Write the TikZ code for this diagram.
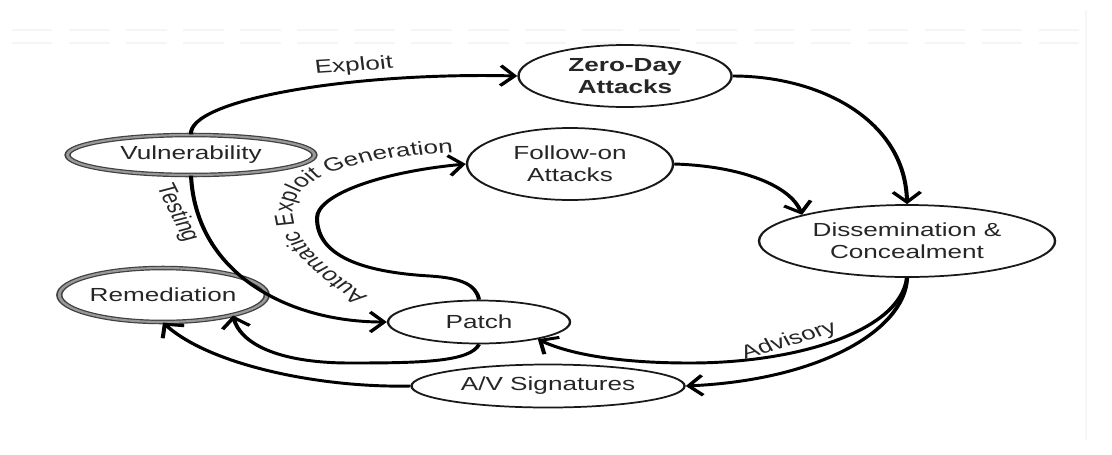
\documentclass[tikz,border=0pt]{standalone}
\usepackage{fontspec}
\setmainfont{Liberation Sans}
\usetikzlibrary{shapes.geometric,arrows.meta,decorations.text}

\newcommand{\labelsize}{\fontsize{14.2}{16.2}\selectfont}

\tikzset{
  state/.style={ellipse, draw=black!90, line width=1.3pt, fill=white, inner sep=0pt,
                align=center, text=black!85, font=\labelsize},
  dblstate/.style={state, draw=black!75, double=black!40, double distance=1.6pt, line width=0.9pt},
  flow/.style={draw=black, line width=2.2pt,
               -{Straight Barb[length=7.5pt,width=15pt,line width=2.2pt]}},
  lbl/.style={inner sep=1pt, text=black!85, font=\labelsize},
  haze/.style={black!4, line width=0.9pt, dash pattern=on 22pt off 9pt}
}

\begin{document}
\begin{tikzpicture}
\useasboundingbox[fill=white] (0,0) rectangle (834pt,-340.5pt);
% everything is laid out in a narrow frame and widened by the canvas transform
\begin{scope}[transform canvas={xscale=1.38}, x=0.5435pt, y=-0.75pt]

  % faint scan bands along the top and right
  \draw[haze] (12,30) -- (1095,30);
  \draw[haze] (12,43) -- (1095,43);
  \draw[black!3, line width=0.8pt] (1086,10) -- (1086,440);

  % states
  \node[dblstate, minimum width=134.2pt, minimum height=30pt] (vul) at (191,155) {Vulnerability};
  \node[dblstate, minimum width=107.1pt, minimum height=40.5pt] (rem) at (163,295) {Remediation};
  \node[state, minimum width=115.8pt, minimum height=46.5pt,
        font=\labelsize\bfseries] (zd) at (625,76) {Zero-Day\\Attacks};
  \node[state, minimum width=112pt, minimum height=54pt] (fo) at (570,164) {Follow-on\\Attacks};
  \node[state, minimum width=160.9pt, minimum height=54pt] (dc) at (907,241) {Dissemination \&\\Concealment};
  \node[state, minimum width=98.9pt, minimum height=32.25pt] (patch) at (479,322) {Patch};
  \node[state, minimum width=148.4pt, minimum height=32.25pt] (av) at (548,386) {A/V Signatures};

  % exploit path
  \draw[flow] (vul.north) .. controls (188,100) and (350,72) .. (zd.west);
  \node[lbl, rotate=5] (lexploit) at (354,66) {Exploit};

  % attacks spread
  \draw[flow] (zd.east) .. controls (820,76) and (905,120) .. (dc.north);
  \draw[flow] (fo.east) .. controls (740,166) and (790,185) .. (dc.161);

  % testing leads to a patch
  \draw[flow] (vul.south) .. controls (196,275) and (290,322) .. (patch.west);
  \node[lbl, rotate=-70] (ltesting) at (177,213) {Testing};

  % patch diffing loops back into new attacks
  \draw[flow] (patch.north) .. controls (476,284) and (460,278) .. (430,276)
              .. controls (360,272) and (317,255) .. (317,218)
              .. controls (317,195) and (380,172) .. (fo.west);
  \path[decorate, decoration={text along path,
        text={|\labelsize\color{black!85}|Automatic Exploit Generation}}]
        (368,296) .. controls (277,239) and (226,160) .. (470,152);

  % remediation
  \draw[flow] (patch.south) .. controls (470,362) and (420,363) .. (350,363)
              .. controls (275,363) and (240,342) .. (rem.-22);
  \draw[flow] (av.west) .. controls (320,388) and (210,365) .. (rem.south);

  % advisories and signatures
  \draw[flow] (dc.south) .. controls (900,330) and (800,363) .. (690,363)
              .. controls (610,363) and (565,352) .. (patch.-22);
  \node[lbl, rotate=22] (ladvisory) at (789,341) {Advisory};
  \draw[flow] (dc.south) .. controls (905,330) and (820,380) .. (av.east);

\end{scope}
\end{tikzpicture}
\end{document}
